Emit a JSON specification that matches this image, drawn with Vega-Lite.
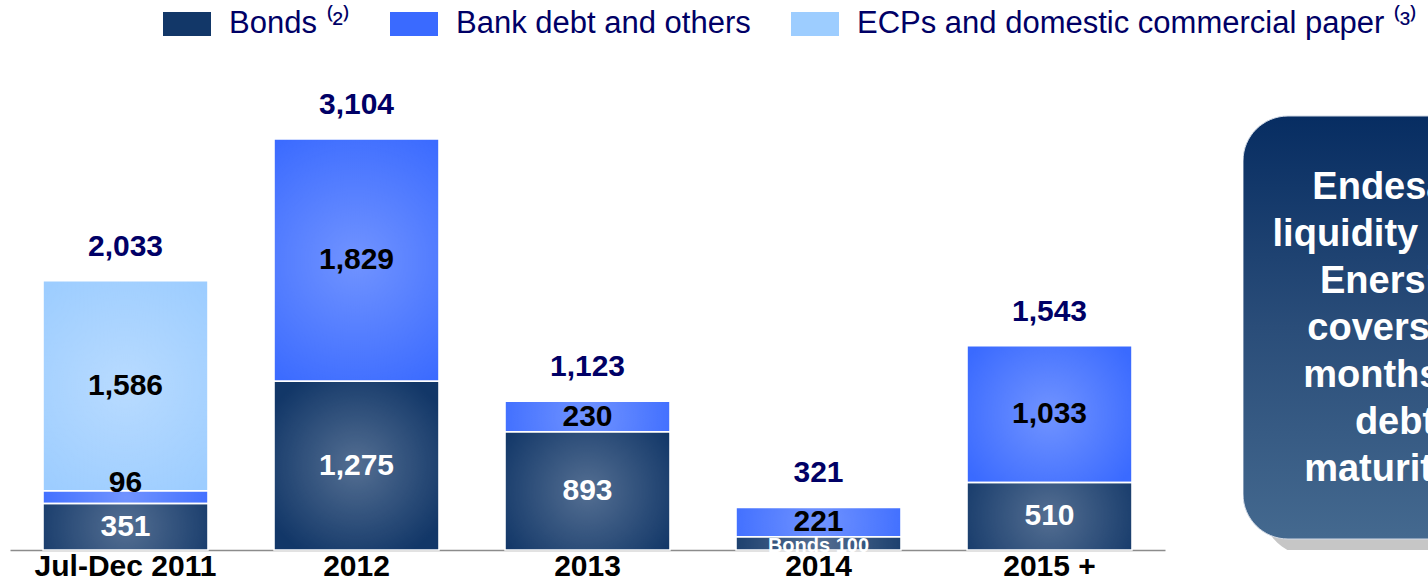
{
  "$schema": "https://vega.github.io/schema/vega-lite/v6.json",
  "padding": {"left": 10, "top": 0, "right": 0, "bottom": 0},
  "background": "white",
  "config": {"view": {"stroke": null}, "font": "Liberation Sans"},
  "datasets": {
    "segments": [
      {"category": "Jul-Dec 2011", "series": "Bonds", "rank": 1, "value": 351, "label": "351"},
      {"category": "Jul-Dec 2011", "series": "Bank debt and others", "rank": 2, "value": 96, "label": "96"},
      {"category": "Jul-Dec 2011", "series": "ECPs and domestic commercial paper", "rank": 3, "value": 1586, "label": "1,586"},
      {"category": "2012", "series": "Bonds", "rank": 1, "value": 1275, "label": "1,275"},
      {"category": "2012", "series": "Bank debt and others", "rank": 2, "value": 1829, "label": "1,829"},
      {"category": "2013", "series": "Bonds", "rank": 1, "value": 893, "label": "893"},
      {"category": "2013", "series": "Bank debt and others", "rank": 2, "value": 230, "label": "230"},
      {"category": "2014", "series": "Bonds", "rank": 1, "value": 100, "label": "Bonds 100"},
      {"category": "2014", "series": "Bank debt and others", "rank": 2, "value": 221, "label": "221"},
      {"category": "2015 +", "series": "Bonds", "rank": 1, "value": 510, "label": "510"},
      {"category": "2015 +", "series": "Bank debt and others", "rank": 2, "value": 1033, "label": "1,033"}
    ],
    "totals": [
      {"category": "Jul-Dec 2011", "total": 2033},
      {"category": "2012", "total": 3104},
      {"category": "2013", "total": 1123},
      {"category": "2014", "total": 321},
      {"category": "2015 +", "total": 1543}
    ],
    "note": [
      {"note": "Endesa's\nliquidity (incl.\nEnersis)\ncovers 24\nmonths of\ndebt\nmaturities"}
    ]
  },
  "spacing": 78,
  "hconcat": [
    {
      "width": 1155,
      "height": 490,
      "layer": [
        {
          "data": {"name": "segments"},
          "transform": [
            {"stack": "value", "groupby": ["category"], "sort": [{"field": "rank", "order": "ascending"}], "as": ["v0", "v1"]},
            {"calculate": "(datum.v0 + datum.v1) / 2", "as": "mid"}
          ],
          "layer": [
            {
              "mark": {"type": "bar", "strokeWidth": 0},
              "encoding": {
                "x": {
                  "field": "category", "type": "nominal",
                  "sort": ["Jul-Dec 2011", "2012", "2013", "2014", "2015 +"],
                  "scale": {"paddingInner": 0.286, "paddingOuter": 0.143},
                  "axis": {
                    "title": null, "labelAngle": 0, "labelFont": "Liberation Sans", "labelFontWeight": "bold",
                    "labelFontSize": 30, "labelColor": "#000000", "labelPadding": 1, "ticks": false, "labelLimit": 400,
                    "domainColor": "#8c8c8c", "domainWidth": 1.5, "grid": false
                  }
                },
                "y": {"field": "v0", "type": "quantitative", "scale": {"domain": [0, 3700], "nice": false}, "axis": null},
                "y2": {"field": "v1"},
                "color": {
                  "field": "series", "type": "nominal",
                  "scale": {
                    "domain": ["Bonds", "Bank debt and others", "ECPs and domestic commercial paper"],
                    "range": ["#123768", "#3a6aff", "#9dcdff"]
                  },
                  "legend": {
                    "orient": "none", "legendX": 153, "legendY": -60, "direction": "horizontal", "title": null,
                    "symbolType": "M-1,-0.5H1V0.5H-1Z", "symbolSize": 2304, "symbolStrokeWidth": 0, "symbolOpacity": 1,
                    "labelFont": "Liberation Sans", "labelFontSize": 31, "labelColor": "#000066", "labelOffset": 18,
                    "labelLimit": 800, "columnPadding": 40,
                    "labelExpr": "datum.label == 'Bonds' ? 'Bonds ⁽²⁾' : datum.label == 'ECPs and domestic commercial paper' ? 'ECPs and domestic commercial paper ⁽³⁾' : datum.label"
                  }
                }
              }
            },
            {
              "mark": {
                "type": "bar", "stroke": "#ffffff", "strokeWidth": 1.5,
                "fill": {
                  "gradient": "radial", "x1": 0.5, "y1": 0.5, "r1": 0, "x2": 0.5, "y2": 0.5, "r2": 0.6,
                  "stops": [
                    {"offset": 0, "color": "rgba(255,255,255,0.28)"},
                    {"offset": 1, "color": "rgba(255,255,255,0)"}
                  ]
                }
              },
              "encoding": {
                "x": {"field": "category", "type": "nominal", "sort": ["Jul-Dec 2011", "2012", "2013", "2014", "2015 +"]},
                "y": {"field": "v0", "type": "quantitative"},
                "y2": {"field": "v1"}
              }
            },
            {
              "transform": [{"filter": "datum.series == 'Bonds' && datum.category != '2014'"}],
              "mark": {"type": "text", "font": "Liberation Sans", "fontWeight": "bold", "fontSize": 30, "color": "#ffffff", "baseline": "middle"},
              "encoding": {
                "x": {"field": "category", "type": "nominal", "sort": ["Jul-Dec 2011", "2012", "2013", "2014", "2015 +"]},
                "y": {"field": "mid", "type": "quantitative"},
                "text": {"field": "label"}
              }
            },
            {
              "transform": [{"filter": "datum.series == 'Bonds' && datum.category == '2014'"}],
              "mark": {"type": "text", "font": "Liberation Sans", "fontWeight": "bold", "fontSize": 20, "color": "#ffffff", "baseline": "middle", "dy": 3},
              "encoding": {
                "x": {"field": "category", "type": "nominal", "sort": ["Jul-Dec 2011", "2012", "2013", "2014", "2015 +"]},
                "y": {"field": "mid", "type": "quantitative"},
                "text": {"field": "label"}
              }
            },
            {
              "transform": [{"filter": "datum.series != 'Bonds' && datum.label != '96'"}],
              "mark": {"type": "text", "font": "Liberation Sans", "fontWeight": "bold", "fontSize": 30, "color": "#000000", "baseline": "middle"},
              "encoding": {
                "x": {"field": "category", "type": "nominal", "sort": ["Jul-Dec 2011", "2012", "2013", "2014", "2015 +"]},
                "y": {"field": "mid", "type": "quantitative"},
                "text": {"field": "label"}
              }
            },
            {
              "transform": [{"filter": "datum.label == '96'"}],
              "mark": {"type": "text", "font": "Liberation Sans", "fontWeight": "bold", "fontSize": 30, "color": "#000000", "baseline": "middle", "dy": -14},
              "encoding": {
                "x": {"field": "category", "type": "nominal", "sort": ["Jul-Dec 2011", "2012", "2013", "2014", "2015 +"]},
                "y": {"field": "mid", "type": "quantitative"},
                "text": {"field": "label"}
              }
            }
          ]
        },
        {
          "data": {"name": "totals"},
          "mark": {"type": "text", "font": "Liberation Sans", "fontWeight": "bold", "fontSize": 30, "color": "#000066", "baseline": "middle", "dy": -34},
          "encoding": {
            "x": {"field": "category", "type": "nominal", "sort": ["Jul-Dec 2011", "2012", "2013", "2014", "2015 +"]},
            "y": {"field": "total", "type": "quantitative"},
            "text": {"field": "total", "format": ","}
          }
        }
      ]
    },
    {
      "width": 185,
      "height": 490,
      "data": {"name": "note"},
      "layer": [
        {
          "mark": {"type": "rect", "clip": true, "cornerRadius": 45, "color": "#c6c6c6"},
          "encoding": {
            "x": {"datum": 20, "type": "quantitative", "scale": {"domain": [0, 185], "nice": false, "zero": false}, "axis": null},
            "x2": {"datum": 400},
            "y": {"datum": 72, "type": "quantitative", "scale": {"domain": [0, 490], "nice": false, "zero": false, "reverse": true}, "axis": null},
            "y2": {"datum": 495}
          }
        },
        {
          "mark": {
            "type": "rect", "clip": true, "cornerRadius": 45, "stroke": "#d0d8e4", "strokeWidth": 1,
            "fill": {
              "gradient": "linear", "x1": 0, "y1": 0, "x2": 0, "y2": 1,
              "stops": [
                {"offset": 0, "color": "#072d62"},
                {"offset": 0.5, "color": "#2a4d79"},
                {"offset": 1, "color": "#44698f"}
              ]
            }
          },
          "encoding": {
            "x": {"datum": 0, "type": "quantitative"},
            "x2": {"datum": 400},
            "y": {"datum": 56, "type": "quantitative"},
            "y2": {"datum": 479}
          }
        },
        {
          "mark": {
            "type": "text", "clip": true, "lineBreak": "\n", "lineHeight": 47, "font": "Liberation Sans",
            "fontWeight": "bold", "fontSize": 38, "color": "#ffffff", "align": "center", "baseline": "middle"
          },
          "encoding": {
            "x": {"datum": 152, "type": "quantitative"},
            "y": {"datum": 128, "type": "quantitative"},
            "text": {"field": "note"}
          }
        }
      ]
    }
  ]
}
